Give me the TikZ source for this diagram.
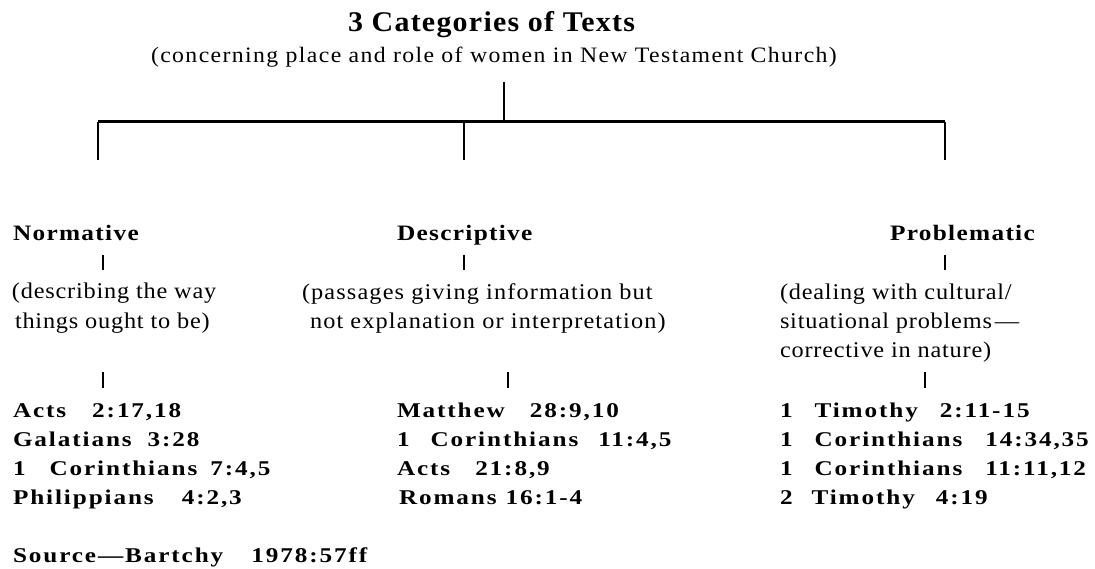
\documentclass[tikz,border=0pt]{standalone}
\usepackage{fontspec}
\setmainfont{Liberation Serif}
\newfontfamily\ftitle{Liberation Serif}[FakeStretch=1.05,LetterSpace=4.4]
\newfontfamily\fsub{Liberation Serif}[FakeStretch=1.08,LetterSpace=6.3]
\newfontfamily\fhead{Liberation Serif}[FakeStretch=1.15,LetterSpace=6]
\newfontfamily\fpar{Liberation Serif}[FakeStretch=1.08,LetterSpace=3.5]
\newfontfamily\fparw{Liberation Serif}[FakeStretch=1.08,LetterSpace=5]
\newfontfamily\fref{Liberation Serif}[FakeStretch=1.2,LetterSpace=9]
\newcommand\wg[1]{\kern#1pt\relax}
\tikzset{
  txt/.style={inner sep=0pt, outer sep=0pt, anchor=base west},
  titlestyle/.style={txt, font=\ftitle\bfseries\fontsize{28.5}{30}\selectfont},
  substyle/.style={txt, font=\fsub\fontsize{22}{24}\selectfont},
  headstyle/.style={txt, font=\fhead\bfseries\fontsize{22}{24}\selectfont},
  parstyle/.style={txt, font=\fpar\fontsize{22.5}{24}\selectfont},
  parwstyle/.style={txt, font=\fparw\fontsize{22.5}{24}\selectfont},
  refstyle/.style={txt, font=\fref\bfseries\fontsize{21}{23}\selectfont},
  conn/.style={line width=2pt},
  bar/.style={line width=3pt},
  tick/.style={line width=2.3pt}
}
\begin{document}
\begin{tikzpicture}[x=1pt,y=-1pt]
\useasboundingbox (0,0) rectangle (1095,569);
% title
\node[titlestyle] (title) at (348,32) {3 Categories of Texts};
\node[substyle] (sub) at (151,63) {(concerning place and role of women in New Testament Church)};
% tree
\coordinate (top) at (504,82);
\coordinate (junc) at (504,122);
\coordinate (barL) at (98,122);
\coordinate (barM) at (464,122);
\coordinate (barR) at (945,122);
\coordinate (dL) at (98,160);
\coordinate (dM) at (464,160);
\coordinate (dR) at (945,160);
\draw[conn] (top) -- (junc);
\draw[bar] (barL) -- (barR);
\draw[conn] (barL) -- (dL);
\draw[conn] (barM) -- (dM);
\draw[conn] (barR) -- (dR);
% headings
\node[headstyle] (norm) at (13,241) {Normative};
\node[headstyle] (desc) at (397,241) {Descriptive};
\node[headstyle] (prob) at (890,241) {Problematic};
% ticks under headings
\coordinate (t1a) at (103,255); \coordinate (t1b) at (103,270);
\coordinate (t2a) at (464,255); \coordinate (t2b) at (464,270);
\coordinate (t3a) at (945,255); \coordinate (t3b) at (945,270);
\draw[tick] (t1a) -- (t1b);
\draw[tick] (t2a) -- (t2b);
\draw[tick] (t3a) -- (t3b);
% explanations
\node[parstyle] (normA) at (12,299) {(describing the way};
\node[parstyle] (normB) at (15,328) {things ought to be)};
\node[parwstyle] (descA) at (302,300) {(passages giving information but};
\node[parwstyle] (descB) at (310,328) {not explanation or interpretation)};
\node[parstyle] (probA) at (780,300) {(dealing with cultural/};
\node[parstyle] (probB) at (780,329) {situational problems\kern3pt—};
\node[parstyle] (probC) at (780,357) {corrective in nature)};
% ticks above lists
\coordinate (u1a) at (103,372); \coordinate (u1b) at (103,388);
\coordinate (u2a) at (508,372); \coordinate (u2b) at (508,388);
\coordinate (u3a) at (925,372); \coordinate (u3b) at (925,388);
\draw[tick] (u1a) -- (u1b);
\draw[tick] (u2a) -- (u2b);
\draw[tick] (u3a) -- (u3b);
% lists
\node[refstyle] (n1) at (13,417) {Acts\wg{26}2:17,18};
\node[refstyle] (n2) at (13,446.5) {Galatians\wg{16}3:28};
\node[refstyle] (n3) at (13,475.5) {1\wg{24}Corinthians\wg{13}7:4,5};
\node[refstyle] (n4) at (13,504.5) {Philippians\wg{28}4:2,3};
\node[refstyle] (d1) at (397,417) {Matthew\wg{25}28:9,10};
\node[refstyle] (d2) at (397,446.5) {1\wg{21}Corinthians\wg{20}11:4,5};
\node[refstyle] (d3) at (397,475.5) {Acts\wg{25}21:8,9};
\node[refstyle] (d4) at (399,504.5) {Romans\wg{9}16:1-4};
\node[refstyle] (p1) at (780,417) {1\wg{22}Timothy\wg{22}2:11-15};
\node[refstyle] (p2) at (780,446.5) {1\wg{22}Corinthians\wg{23}14:34,35};
\node[refstyle] (p3) at (780,475.5) {1\wg{22}Corinthians\wg{23}11:11,12};
\node[refstyle] (p4) at (780,504.5) {2\wg{19}Timothy\wg{21}4:19};
\node[refstyle] (src) at (13,562) {Source—Bartchy\wg{28}1978:57ff};
\end{tikzpicture}
\end{document}
